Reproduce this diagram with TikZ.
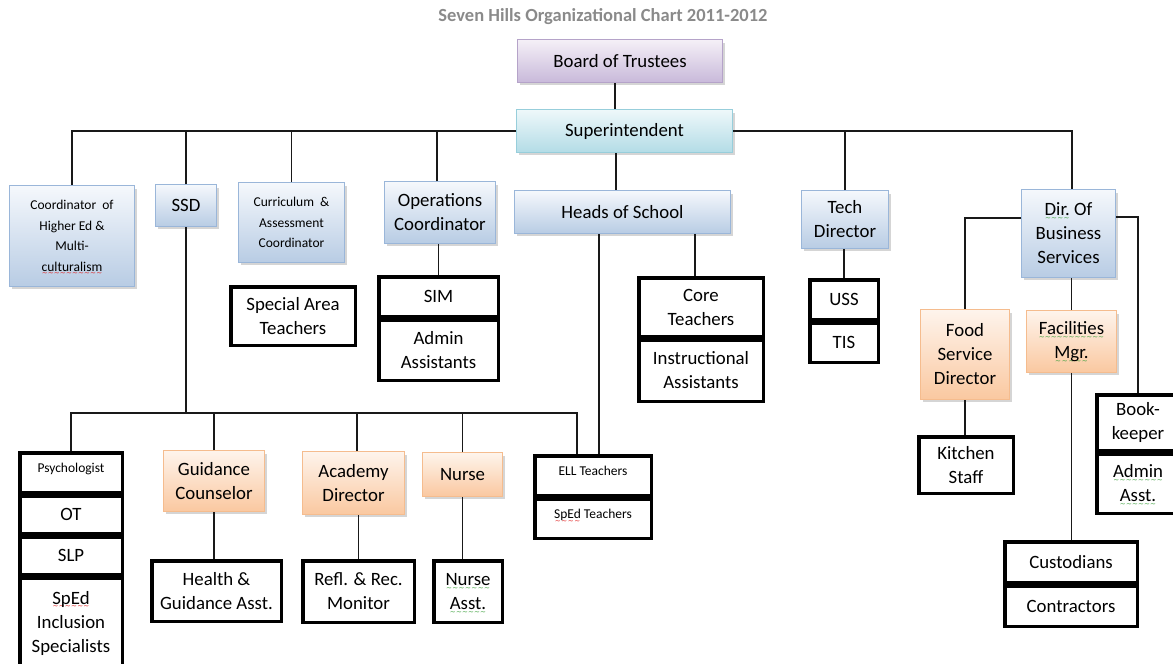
\documentclass[tikz,border=0pt]{standalone}
\usepackage{fontspec}
\setmainfont{Carlito}
\newfontfamily\sqfont{DejaVu Sans}
\usetikzlibrary{shadows}
\definecolor{bluetop}{HTML}{F5F8FC}
\definecolor{bluebot}{HTML}{B8CCE4}
\definecolor{bluebd}{HTML}{9AB6D9}
\definecolor{ortop}{HTML}{FEF4EC}
\definecolor{orbot}{HTML}{FAC8A0}
\definecolor{orbd}{HTML}{F5BC8E}
\definecolor{purtop}{HTML}{F4F0F7}
\definecolor{purbot}{HTML}{C9B9DA}
\definecolor{purbd}{HTML}{B5A3C9}
\definecolor{cyantop}{HTML}{EEF8FA}
\definecolor{cyanbot}{HTML}{B3DCE6}
\definecolor{cyanbd}{HTML}{97CEDB}
\definecolor{titlegray}{HTML}{8A8A8A}
\definecolor{sqgreen}{HTML}{3CA03C}
\definecolor{sqred}{HTML}{E02020}
\newcommand\sqline[2]{\leavevmode\setbox0\hbox{#2}\rlap{\raisebox{-4.6pt}[0pt][0pt]{\textcolor{#1}{\sqfont\fontsize{7}{7}\selectfont\hbox to \wd0{\xleaders\hbox{∼}\hfill}}}}\box0\relax}
\newcommand\redsq[1]{\sqline{sqred}{#1}}
\newcommand\grnsq[1]{\sqline{sqgreen}{#1}}
\tikzset{
  big/.style={font=\fontsize{18.8}{24}\selectfont},
  small/.style={font=\fontsize{13.5}{20.5}\selectfont},
  gbox/.style={draw, line width=1.2pt, align=center, inner sep=1pt, big,
    drop shadow={shadow xshift=2.5pt, shadow yshift=-3pt, opacity=0.3, fill=black!55}},
  bluebox/.style={gbox, draw=bluebd, top color=bluetop, bottom color=bluebot},
  orbox/.style={gbox, draw=orbd, top color=ortop, bottom color=orbot},
  purbox/.style={gbox, draw=purbd, top color=purtop, bottom color=purbot},
  cyanbox/.style={gbox, draw=cyanbd, top color=cyantop, bottom color=cyanbot},
  gsz/.style 2 args={minimum width=#1pt-1.2pt, minimum height=#2pt-1.2pt},
  bbox/.style={draw=black, line width=3.5pt, fill=white, align=center, inner sep=1pt, big},
  bsz/.style 2 args={minimum width=#1pt-3.5pt, minimum height=#2pt-3.5pt},
  conn/.style={draw=black!90, line width=1.4pt},
}
\begin{document}
\begin{tikzpicture}[x=1pt, y=-1pt]
\useasboundingbox (0,0) rectangle (1173,664);
\clip (0,0) rectangle (1173,664);

\node[font=\bfseries\fontsize{18.5}{22}\selectfont, text=titlegray] (title) at (603,17) {Seven Hills Organizational Chart 2011-2012};

% top level
\node[purbox, gsz={206}{44}] (board) at (620,61) {Board of Trustees};
\node[cyanbox, gsz={217}{44}] (super) at (624.5,131) {Superintendent};

% second level
\node[bluebox, gsz={126}{102}, small] (coord) at (72,236) {Coordinator\ \ of\\Higher Ed \&\\Multi-\\\redsq{culturalism}};
\node[bluebox, gsz={62}{43}] (ssd) at (186,205.5) {SSD};
\node[bluebox, gsz={107}{81}, small] (curr) at (291.5,222.5) {Curriculum\ \ \&\\Assessment\\Coordinator};
\node[bluebox, gsz={112}{63}] (ops) at (440,212.5) {Operations\\Coordinator};
\node[bluebox, gsz={217}{44}] (heads) at (622.5,212) {Heads of School};
\node[bluebox, gsz={88}{59}] (tech) at (845,219.5) {Tech\\Director};
\node[bluebox, gsz={95}{89}] (dir) at (1068.5,233.5) {\grnsq{Dir.} Of\\Business\\Services};

% third level black boxes
\node[bbox, bsz={128}{62}] (spec) at (293,316) {Special Area\\Teachers};
\node[bbox, bsz={123}{43}] (sim) at (438.5,296.5) {SIM};
\node[bbox, bsz={123}{64}] (adm) at (438.5,350) {Admin\\Assistants};
\node[bbox, bsz={128}{62}] (core) at (701,307) {Core\\Teachers};
\node[bbox, bsz={128}{65}] (instr) at (701,370.5) {Instructional\\Assistants};
\node[bbox, bsz={72}{43}] (uss) at (844,299.5) {USS};
\node[bbox, bsz={72}{43}] (tis) at (844,342.5) {TIS};

% business services
\node[orbox, gsz={90}{91}] (food) at (965,354.5) {Food\\Service\\Director};
\node[orbox, gsz={91}{63}] (fac) at (1071.5,341.5) {\grnsq{Facilities}\\\grnsq{Mgr.}};
\node[bbox, bsz={98}{60}] (kit) at (966,465) {Kitchen\\Staff};
\node[bbox, bsz={86}{59}] (book) at (1138,422.5) {Book-\\keeper};
\node[bbox, bsz={86}{63}] (aasst) at (1138,483.5) {\grnsq{Admin}\\\grnsq{Asst.}};
\node[bbox, bsz={136}{44}] (cust) at (1071,562) {Custodians};
\node[bbox, bsz={136}{44}] (contr) at (1071,606) {Contractors};

% SSD subtree
\node[bbox, bsz={106}{43}, small, text depth=9pt] (psy) at (71,472.5) {Psychologist};
\node[bbox, bsz={106}{41}] (ot) at (71,514.5) {OT};
\node[bbox, bsz={106}{41}] (slp) at (71,555.5) {SLP};
\node[bbox, bsz={106}{94}] (sped) at (71,623) {\redsq{SpEd}\\Inclusion\\Specialists};
\node[orbox, gsz={102}{62}] (guid) at (214,481) {Guidance\\Counselor};
\node[orbox, gsz={103}{64}] (acad) at (353.5,483) {Academy\\Director};
\node[orbox, gsz={81}{45}] (nurse) at (462.5,474.5) {Nurse};
\node[bbox, bsz={133}{64}] (hga) at (216.5,591) {Health \&\\Guidance Asst.};
\node[bbox, bsz={115}{65}] (refl) at (358.5,591.5) {Refl. \& Rec.\\Monitor};
\node[bbox, bsz={72}{65}] (nasst) at (468,591.5) {\grnsq{Nurse}\\\grnsq{Asst.}};
\node[bbox, bsz={120}{43}, small, text depth=9pt] (ell) at (593,475.5) {ELL Teachers};
\node[bbox, bsz={120}{43}, small, text depth=9pt] (spt) at (593,518.5) {\redsq{SpEd} Teachers};

\coordinate (bus2) at (187,413);

% connectors
\draw[conn] ([xshift=-5]board.south) -- ([xshift=-5]board.south |- super.north);
\draw[conn] (super.west) -| (coord.north);
\draw[conn] (ssd.north) |- (super.west);
\draw[conn] (curr.north) |- (super.west);
\draw[conn] ([xshift=-3]ops.north) |- (super.west);
\draw[conn] (super.east) -| ([xshift=3.5]dir.north);
\draw[conn] (tech.north) |- (super.east);
\draw[conn] ([xshift=-8.5]super.south) -- ([xshift=-8.5]super.south |- heads.north);
\draw[conn] (ops.south -| sim.north) -- (sim.north);
\draw[conn] ([xshift=-6]core.north |- heads.south) -- ([xshift=-6]core.north);
\draw[conn] (tech.south -| uss.north) -- (uss.north);
\draw[conn] ([xshift=6]ell.north |- heads.south) -- ([xshift=6]ell.north);

\draw[conn] (ssd.south) -- (ssd.south |- bus2);
\draw[conn] (psy.north) |- ([xshift=-16]ell.north |- bus2) -- ([xshift=-16]ell.north);
\draw[conn] (guid.north) -- (guid.north |- bus2);
\draw[conn] ([xshift=3.5]acad.north) -- ([xshift=3.5]acad.north |- bus2);
\draw[conn] (nurse.north) -- (nurse.north |- bus2);
\draw[conn] (guid.south) -- (guid.south |- hga.north);
\draw[conn] (refl.north |- acad.south) -- (refl.north);
\draw[conn] (nurse.south) -- (nurse.south |- nasst.north);

\draw[conn] ([yshift=15.5]dir.west) -| (food.north);
\draw[conn] ([yshift=16.5]dir.east) -| (book.north);
\draw[conn] (fac.north |- dir.south) -- (fac.north);
\draw[conn] (fac.south) -- (fac.south |- cust.north);
\draw[conn] (food.south) -- (food.south |- kit.north);
\end{tikzpicture}
\end{document}
